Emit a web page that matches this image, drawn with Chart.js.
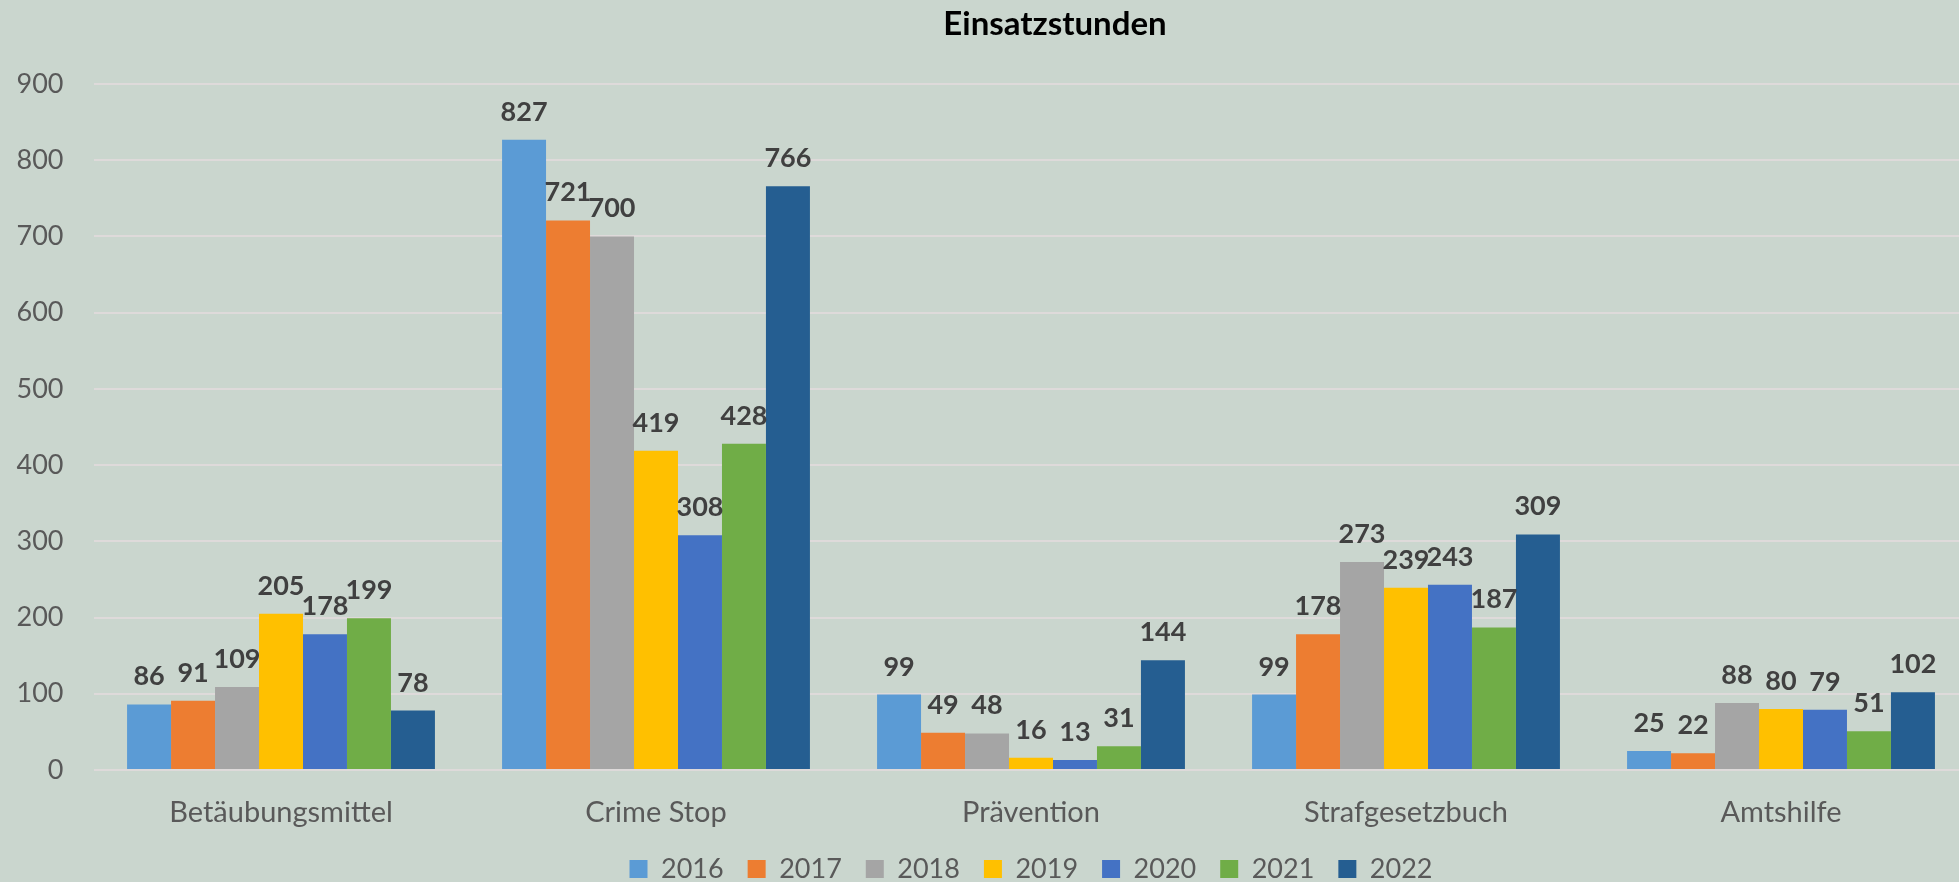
<!DOCTYPE html>
<html>
<head>
<meta charset="utf-8">
<script src="https://cdn.jsdelivr.net/npm/chart.js@4/dist/chart.umd.min.js"></script>
<style>
    html, body { margin: 0; padding: 0; overflow: hidden; }
    body {
        width: 1959px; height: 882px;
        background: #cad6ce;
        position: relative;
    }
    #titel {
        position: absolute; left: 0; top: 6px; width: 2110px;
        text-align: center;
        font: bold 33px Lato, sans-serif; line-height: 33px;
        color: #000;
    }
    #box { position: absolute; left: 0; top: 0; width: 2062px; height: 882px; }
</style>
</head>
<body>
<div id="box"><canvas id="grafico"></canvas></div>
<div id="titel">Einsatzstunden</div>
<script>
const kategorien = ["Betäubungsmittel", "Crime Stop", "Prävention", "Strafgesetzbuch", "Amtshilfe"];
const jahre = ["2016", "2017", "2018", "2019", "2020", "2021", "2022"];
const werte2016 = [86, 827, 99, 99, 25];
const werte2017 = [91, 721, 49, 178, 22];
const werte2018 = [109, 700, 48, 273, 88];
const werte2019 = [205, 419, 16, 239, 80];
const werte2020 = [178, 308, 13, 243, 79];
const werte2021 = [199, 428, 31, 187, 51];
const werte2022 = [78, 766, 144, 309, 102];
const farben = ["#5b9bd5", "#ed7d31", "#a5a5a5", "#ffc000", "#4472c4", "#70ad47", "#255e91"];
const yTicks = [0, 100, 200, 300, 400, 500, 600, 700, 800, 900];

const werte = [werte2016, werte2017, werte2018, werte2019, werte2020, werte2021, werte2022];

// Werte über den Balken
const wertLabels = {
    id: "wertLabels",
    afterDatasetsDraw(chart) {
        const ctx = chart.ctx;
        ctx.save();
        ctx.font = "bold 27px Lato, sans-serif";
        ctx.fillStyle = "#404040";
        ctx.textAlign = "center";
        ctx.textBaseline = "alphabetic";
        chart.data.datasets.forEach((ds, i) => {
            chart.getDatasetMeta(i).data.forEach((bar, j) => {
                ctx.fillText(ds.data[j], bar.x, bar.y - 19);
            });
        });
        ctx.restore();
    }
};

new Chart(document.getElementById("grafico"), {
    type: "bar",
    data: {
        labels: kategorien,
        datasets: jahre.map((j, i) => ({
            label: j,
            data: werte[i],
            backgroundColor: farben[i],
            categoryPercentage: 0.821,
            barPercentage: 1
        }))
    },
    options: {
        responsive: true,
        maintainAspectRatio: false,
        animation: false,
        layout: { padding: { top: 84, right: 0, left: 0, bottom: -10.5 } },
        plugins: {
            legend: {
                position: "bottom",
                labels: {
                    boxWidth: 18,
                    boxHeight: 18,
                    padding: 24,
                    color: "#595959",
                    font: { family: "Lato", size: 27 }
                }
            },
            tooltip: { enabled: false }
        },
        scales: {
            x: {
                afterFit: (s) => { s.height = 61.5; },
                grid: { display: false },
                border: { display: false },
                ticks: {
                    color: "#595959",
                    padding: 17,
                    font: { family: "Lato", size: 29 }
                }
            },
            y: {
                min: 0,
                max: 900,
                afterFit: (s) => { s.width = 93.5; },
                afterBuildTicks: (s) => { s.ticks = yTicks.map(v => ({ value: v })); },
                grid: { color: "#dedada", lineWidth: 2, drawTicks: false },
                border: { display: false },
                ticks: {
                    color: "#595959",
                    padding: 30,
                    font: { family: "Lato", size: 27 }
                }
            },
            // leere Achse rechts, damit die Legende mittig unter den Balken sitzt
            yRechts: {
                position: "right",
                display: true,
                afterFit: (s) => { s.width = 93.5; },
                grid: { display: false, drawTicks: false },
                border: { display: false },
                ticks: { display: false }
            }
        }
    },
    plugins: [wertLabels]
});
</script>
</body>
</html>
